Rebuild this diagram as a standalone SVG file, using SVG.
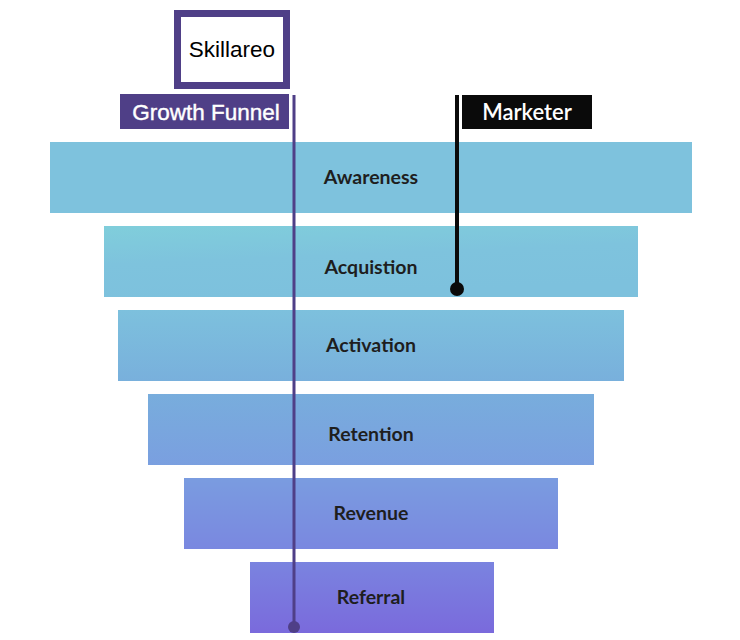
<svg xmlns="http://www.w3.org/2000/svg" width="740" height="640" viewBox="0 0 740 640">
<defs>
<linearGradient id="g" gradientUnits="userSpaceOnUse" x1="0" y1="226" x2="0" y2="633">
<stop offset="0" stop-color="#7EC4DD"/>
<stop offset="0.2" stop-color="#7DC1DD"/>
<stop offset="0.4" stop-color="#78AEDC"/>
<stop offset="0.6" stop-color="#7A9EE0"/>
<stop offset="0.8" stop-color="#7A87E0"/>
<stop offset="1" stop-color="#7A6ADC"/>
</linearGradient>
<linearGradient id="ga" x1="0" y1="0" x2="0.3" y2="1">
<stop offset="0" stop-color="#80CEDB"/>
<stop offset="0.5" stop-color="#7EC3DD"/>
<stop offset="1" stop-color="#7DC1DD"/>
</linearGradient>
<style>
.bar{fill:url(#g)}
.lbl{font-family:Lato,"Liberation Sans",sans-serif;font-weight:bold;font-size:19.5px;fill:#1e1e1e;text-anchor:middle}
</style>
</defs>
<g id="skillareo">
<rect x="177.5" y="13.5" width="109" height="72" fill="#fff" stroke="#4F3F87" stroke-width="7"/>
<text x="232" y="57" font-family="Liberation Sans,Arial,sans-serif" font-size="22.5" fill="#000" text-anchor="middle">Skillareo</text>
</g>
<g id="growth-funnel">
<rect x="120" y="94" width="169" height="35" fill="#4F3F87"/>
<text x="206" y="119.5" font-family="Liberation Sans,Arial,sans-serif" font-size="22.5" fill="#fff" stroke="#fff" stroke-width="0.4" text-anchor="middle">Growth Funnel</text>
</g>
<g id="marketer">
<rect x="462" y="95" width="130" height="34" fill="#0a0a0a"/>
<text x="527" y="119.5" font-family="Lato,'Liberation Sans',sans-serif" font-weight="600" font-size="22" fill="#fff" text-anchor="middle">Marketer</text>
</g>
<g id="awareness">
<rect x="50" y="142" width="642" height="71" fill="#7EC2DD"/>
<text class="lbl" x="371" y="184">Awareness</text>
</g>
<g id="acquistion">
<rect x="104" y="226" width="534" height="71" fill="url(#ga)"/>
<text class="lbl" x="371" y="274">Acquistion</text>
</g>
<g id="activation">
<rect class="bar" x="118" y="310" width="506" height="71"/>
<text class="lbl" x="371" y="352">Activation</text>
</g>
<g id="retention">
<rect class="bar" x="148" y="394" width="446" height="71"/>
<text class="lbl" x="371" y="441">Retention</text>
</g>
<g id="revenue">
<rect class="bar" x="184" y="478" width="374" height="71"/>
<text class="lbl" x="371" y="520">Revenue</text>
</g>
<g id="referral">
<rect class="bar" x="250" y="562" width="244" height="71"/>
<text class="lbl" x="371" y="604">Referral</text>
</g>
<g id="connectors">
<line x1="294" y1="95" x2="294" y2="627" stroke="#4F3F87" stroke-width="3"/>
<circle cx="294" cy="627" r="6" fill="#4F3F87"/>
<line x1="457" y1="95" x2="457" y2="289" stroke="#0a0a0a" stroke-width="4"/>
<circle cx="457" cy="289" r="7" fill="#0a0a0a"/>
</g>
</svg>
